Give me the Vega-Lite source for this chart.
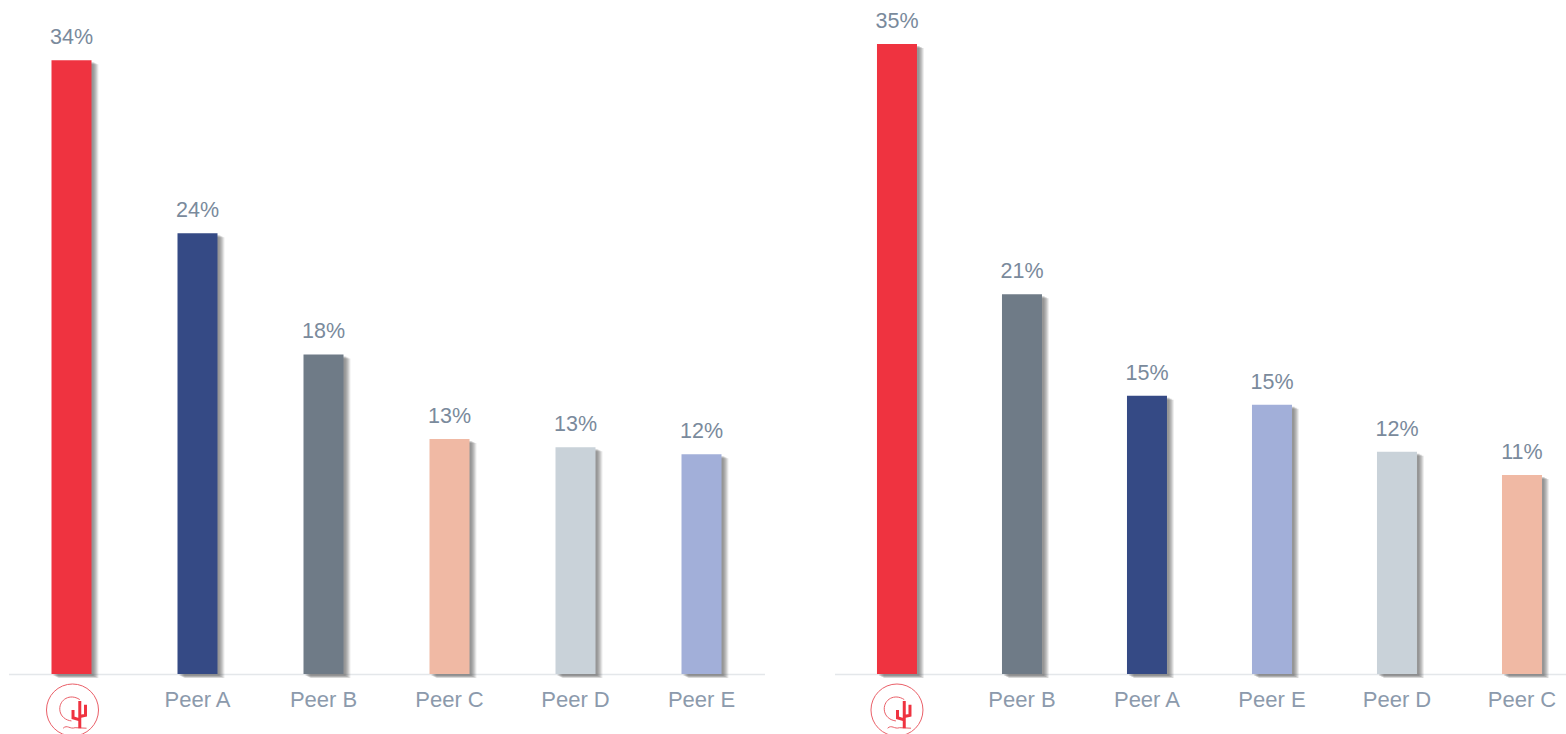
{
"$schema":"https://vega.github.io/schema/vega-lite/v6.json",
"background":"white",
"padding":{"left":8.5,"top":0,"right":0,"bottom":0},
"spacing":70,
"config":{"view":{"stroke":null},"font":"Liberation Sans"},
"datasets":{
"left":[{"company":"Logo","share":0.341},{"company":"Peer A","share":0.2449},{"company":"Peer B","share":0.1775},{"company":"Peer C","share":0.1305},{"company":"Peer D","share":0.126},{"company":"Peer E","share":0.122}],
"right":[{"company":"Logo","share":0.35},{"company":"Peer B","share":0.211},{"company":"Peer A","share":0.1545},{"company":"Peer E","share":0.1495},{"company":"Peer D","share":0.1235},{"company":"Peer C","share":0.1105}],
"logo":[{"company":"Logo","level":-0.02}]
},
"hconcat":[
{"width":756,"height":674,
"encoding":{
"x":{"field":"company","type":"nominal","sort":null,"scale":{"domain":["Logo","Peer A","Peer B","Peer C","Peer D","Peer E"],"paddingInner":0.6825,"paddingOuter":0.34125},"axis":{"title":null,"labelAngle":0,"ticks":false,"labelFontSize":22,"labelColor":"#8c9aac","labelPadding":15,"labelLimit":0,"domainColor":"#e4e7ea","domainWidth":1.5,"labelExpr":"datum.label=='Logo'?'':datum.label","labelFont":"Liberation Sans"}},
"y":{"field":"share","type":"quantitative","scale":{"domain":[0,0.3744],"nice":false},"axis":null}
},
"layer":[
{"data":{"name":"left"},"mark":{"type":"bar","color":"#555","opacity":0.14,"xOffset":2,"yOffset":2,"y2Offset":0}},
{"data":{"name":"left"},"mark":{"type":"bar","color":"#555","opacity":0.16,"xOffset":3,"yOffset":2,"y2Offset":0}},
{"data":{"name":"left"},"mark":{"type":"bar","color":"#555","opacity":0.16,"xOffset":4,"yOffset":3,"y2Offset":0}},
{"data":{"name":"left"},"mark":{"type":"bar","color":"#555","opacity":0.16,"xOffset":5,"yOffset":3,"y2Offset":0}},
{"data":{"name":"left"},"mark":{"type":"bar","color":"#555","opacity":0.14,"xOffset":6,"yOffset":4,"y2Offset":0}},
{"data":{"name":"left"},"mark":{"type":"bar","color":"#555","opacity":0.1,"xOffset":7,"yOffset":4,"y2Offset":0}},
{"data":{"name":"left"},"mark":{"type":"bar"},"encoding":{"color":{"field":"company","type":"nominal","legend":null,"scale":{"domain":["Logo","Peer A","Peer B","Peer C","Peer D","Peer E"],"range":["#ef3340","#354a85","#6f7b87","#f0b9a4","#c9d2d9","#a2afd9"]}}}},
{"data":{"name":"left"},"mark":{"type":"text","baseline":"bottom","dy":-11,"fontSize":21.5,"color":"#7a8a9c","font":"Liberation Sans"},"encoding":{"text":{"field":"share","type":"quantitative","format":".0%"}}},
{"data":{"name":"logo"},"mark":{"type":"point","shape":"circle","size":2704,"filled":false,"stroke":"#ea5f68","strokeWidth":1,"opacity":1,"xOffset":1},"encoding":{"y":{"field":"level","type":"quantitative"}}},
{"data":{"name":"logo"},"mark":{"type":"point","shape":"M0.28,-0.4 C-0.1,-0.65 -0.5,-0.4 -0.49,-0.03 C-0.48,0.25 -0.25,0.4 -0.04,0.42 M-0.36,0.7 C-0.2,0.55 -0.1,0.75 0.1,0.68 L0.54,0.7","size":2704,"filled":false,"stroke":"#ea5f68","strokeWidth":1,"opacity":1,"xOffset":1},"encoding":{"y":{"field":"level","type":"quantitative"}}},
{"data":{"name":"logo"},"mark":{"type":"point","shape":"M0.28,-0.35 L0.28,0.7 M0.02,0 L0.02,0.3 L0.28,0.38 M0.5,-0.2 L0.5,0.2 L0.28,0.25","size":2704,"filled":false,"stroke":"#ef3340","strokeWidth":3,"opacity":1,"xOffset":1},"encoding":{"y":{"field":"level","type":"quantitative"}}}
]},
{"width":732,"height":674,
"encoding":{
"x":{"field":"company","type":"nominal","sort":null,"scale":{"domain":["Logo","Peer B","Peer A","Peer E","Peer D","Peer C"],"paddingInner":0.68,"paddingOuter":0.268,"align":0.634},"axis":{"title":null,"labelAngle":0,"ticks":false,"labelFontSize":22,"labelColor":"#8c9aac","labelPadding":15,"labelLimit":0,"domainColor":"#e4e7ea","domainWidth":1.5,"labelExpr":"datum.label=='Logo'?'':datum.label","labelFont":"Liberation Sans"}},
"y":{"field":"share","type":"quantitative","scale":{"domain":[0,0.3744],"nice":false},"axis":null}
},
"layer":[
{"data":{"name":"right"},"mark":{"type":"bar","color":"#555","opacity":0.14,"xOffset":2,"yOffset":2,"y2Offset":0}},
{"data":{"name":"right"},"mark":{"type":"bar","color":"#555","opacity":0.16,"xOffset":3,"yOffset":2,"y2Offset":0}},
{"data":{"name":"right"},"mark":{"type":"bar","color":"#555","opacity":0.16,"xOffset":4,"yOffset":3,"y2Offset":0}},
{"data":{"name":"right"},"mark":{"type":"bar","color":"#555","opacity":0.16,"xOffset":5,"yOffset":3,"y2Offset":0}},
{"data":{"name":"right"},"mark":{"type":"bar","color":"#555","opacity":0.14,"xOffset":6,"yOffset":4,"y2Offset":0}},
{"data":{"name":"right"},"mark":{"type":"bar","color":"#555","opacity":0.1,"xOffset":7,"yOffset":4,"y2Offset":0}},
{"data":{"name":"right"},"mark":{"type":"bar"},"encoding":{"color":{"field":"company","type":"nominal","legend":null,"scale":{"domain":["Logo","Peer A","Peer B","Peer C","Peer D","Peer E"],"range":["#ef3340","#354a85","#6f7b87","#f0b9a4","#c9d2d9","#a2afd9"]}}}},
{"data":{"name":"right"},"mark":{"type":"text","baseline":"bottom","dy":-11,"fontSize":21.5,"color":"#7a8a9c","font":"Liberation Sans"},"encoding":{"text":{"field":"share","type":"quantitative","format":".0%"}}},
{"data":{"name":"logo"},"mark":{"type":"point","shape":"circle","size":2704,"filled":false,"stroke":"#ea5f68","strokeWidth":1,"opacity":1},"encoding":{"y":{"field":"level","type":"quantitative"}}},
{"data":{"name":"logo"},"mark":{"type":"point","shape":"M0.28,-0.4 C-0.1,-0.65 -0.5,-0.4 -0.49,-0.03 C-0.48,0.25 -0.25,0.4 -0.04,0.42 M-0.36,0.7 C-0.2,0.55 -0.1,0.75 0.1,0.68 L0.54,0.7","size":2704,"filled":false,"stroke":"#ea5f68","strokeWidth":1,"opacity":1},"encoding":{"y":{"field":"level","type":"quantitative"}}},
{"data":{"name":"logo"},"mark":{"type":"point","shape":"M0.28,-0.35 L0.28,0.7 M0.02,0 L0.02,0.3 L0.28,0.38 M0.5,-0.2 L0.5,0.2 L0.28,0.25","size":2704,"filled":false,"stroke":"#ef3340","strokeWidth":3,"opacity":1},"encoding":{"y":{"field":"level","type":"quantitative"}}}
]}
],
"resolve":{"scale":{"color":"independent","x":"independent"}}
}
